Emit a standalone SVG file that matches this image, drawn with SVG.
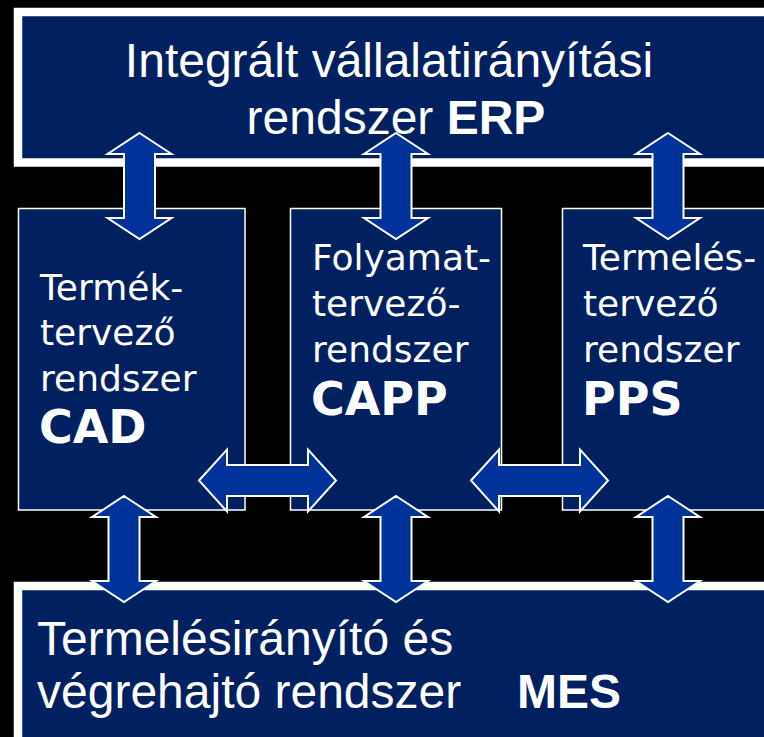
<svg xmlns="http://www.w3.org/2000/svg" width="764" height="737" viewBox="0 0 764 737">
  <style>
    .big { fill: #002060; stroke: #ffffff; stroke-width: 8.5; }
    .box { fill: #002060; stroke: #ffffff; stroke-width: 1.5; }
    .arrow { fill: #003399; stroke: #ffffff; stroke-width: 2; stroke-linejoin: miter; }
    .sans { font-family: "Liberation Sans", Arial, sans-serif; fill: #ffffff; font-size: 48px; }
    .ver { font-family: "DejaVu Sans", Verdana, sans-serif; fill: #ffffff; font-size: 36px; }
    .vb { font-weight: bold; font-size: 46px; }
    .b { font-weight: bold; }
  </style>
  <defs>
    <path id="varrow" d="M0,0 L32,21 L15.5,21 L15.5,85 L32,85 L0,106 L-32,85 L-15.5,85 L-15.5,21 L-32,21 Z"/>
    <path id="harrow" d="M0,0 L28,-31 L28,-15.5 L109,-15.5 L109,-31 L137,0 L109,31 L109,15.5 L28,15.5 L28,31 Z"/>
  </defs>
  <rect width="764" height="737" fill="#000000"/>

  <g id="erp">
    <rect class="big" x="18" y="12" width="800" height="150.5"/>
    <text class="sans" x="389" y="77" text-anchor="middle">Integrált vállalatirányítási</text>
    <text class="sans" x="396" y="134" text-anchor="middle">rendszer <tspan class="b">ERP</tspan></text>
  </g>

  <g id="cad">
    <rect class="box" x="18.5" y="208.5" width="226.5" height="301.5"/>
    <text class="ver" x="40" y="300">Termék-</text>
    <text class="ver" x="40" y="345">tervező</text>
    <text class="ver" x="40" y="391">rendszer</text>
    <text class="ver vb" x="39" y="443">CAD</text>
  </g>

  <g id="capp">
    <rect class="box" x="290.5" y="208.5" width="211" height="301.5"/>
    <text class="ver" x="312" y="270">Folyamat-</text>
    <text class="ver" x="312" y="316">tervező-</text>
    <text class="ver" x="312" y="362">rendszer</text>
    <text class="ver vb" x="311" y="415">CAPP</text>
  </g>

  <g id="pps">
    <rect class="box" x="562.5" y="208.5" width="250" height="301.5"/>
    <text class="ver" x="583" y="270">Termelés-</text>
    <text class="ver" x="583" y="316">tervező</text>
    <text class="ver" x="583" y="362">rendszer</text>
    <text class="ver vb" x="582" y="415">PPS</text>
  </g>

  <g id="mes">
    <rect class="big" x="18" y="586" width="800" height="200"/>
    <text class="sans" x="37" y="655">Termelésirányító és</text>
    <text class="sans" x="37" y="708">végrehajtó rendszer</text>
    <text class="sans b" x="517" y="708">MES</text>
  </g>

  <g id="connectors">
    <use href="#varrow" class="arrow" transform="translate(139.5,133)"/>
    <use href="#varrow" class="arrow" transform="translate(396,133)"/>
    <use href="#varrow" class="arrow" transform="translate(668,133)"/>
    <use href="#varrow" class="arrow" transform="translate(124,496)"/>
    <use href="#varrow" class="arrow" transform="translate(396,496)"/>
    <use href="#varrow" class="arrow" transform="translate(668,496)"/>
    <use href="#harrow" class="arrow" transform="translate(199,480.5)"/>
    <use href="#harrow" class="arrow" transform="translate(471,480.5)"/>
  </g>
</svg>
